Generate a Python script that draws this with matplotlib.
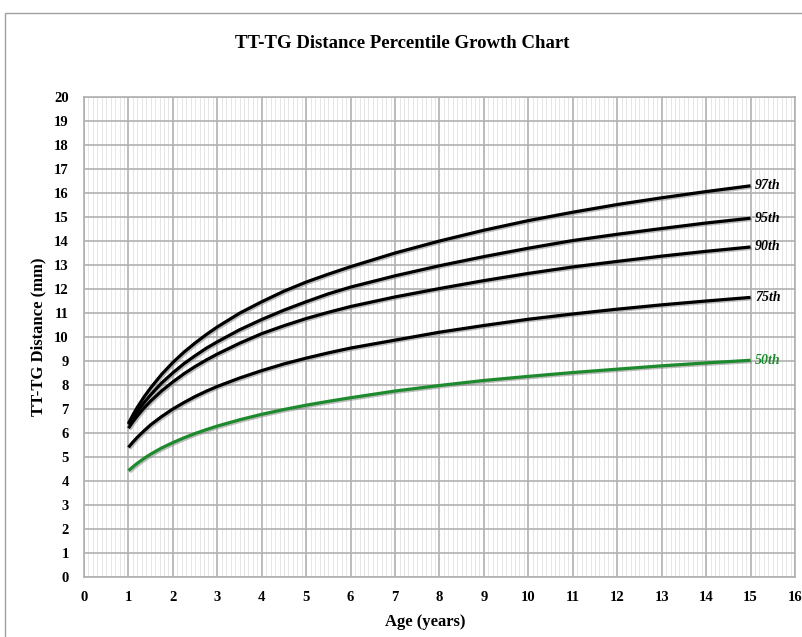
import matplotlib
matplotlib.use("Agg")
import matplotlib.pyplot as plt
import matplotlib.patheffects as pe
from matplotlib.patches import Rectangle
from matplotlib.ticker import MultipleLocator

plt.rcParams['font.family'] = ['Liberation Serif', 'DejaVu Serif']

ages = [1, 1.1, 1.2, 1.35, 1.5, 1.75, 2, 2.25, 2.5, 2.75, 3, 3.5, 4, 4.5, 5, 5.5, 6,
        7, 8, 9, 10, 11, 12, 13, 14, 15]
p97 = [6.4, 6.75, 7.07, 7.5, 7.88, 8.45, 8.94, 9.37, 9.75, 10.1, 10.42, 10.99, 11.47, 11.91, 12.29, 12.62, 12.93,
       13.5, 14.0, 14.45, 14.85, 15.2, 15.52, 15.8, 16.06, 16.3]
p95 = [6.35, 6.62, 6.89, 7.26, 7.59, 8.09, 8.51, 8.89, 9.22, 9.53, 9.8, 10.3, 10.73, 11.12, 11.47, 11.8, 12.08,
       12.55, 12.97, 13.35, 13.7, 14.02, 14.28, 14.52, 14.75, 14.95]
p90 = [6.2, 6.47, 6.71, 7.04, 7.33, 7.76, 8.13, 8.47, 8.77, 9.04, 9.29, 9.74, 10.14, 10.47, 10.77, 11.03, 11.27,
       11.67, 12.02, 12.35, 12.65, 12.92, 13.15, 13.37, 13.57, 13.75]
p75 = [5.4, 5.62, 5.82, 6.09, 6.34, 6.69, 7.0, 7.27, 7.52, 7.74, 7.94, 8.29, 8.6, 8.88, 9.12, 9.34, 9.54,
       9.87, 10.2, 10.48, 10.74, 10.96, 11.16, 11.34, 11.5, 11.65]
p50 = [4.43, 4.59, 4.74, 4.94, 5.12, 5.38, 5.6, 5.8, 5.98, 6.14, 6.29, 6.55, 6.78, 6.98, 7.16, 7.32, 7.47,
       7.75, 7.98, 8.19, 8.36, 8.52, 8.66, 8.8, 8.92, 9.03]

series = [("97th", p97, "black"), ("95th", p95, "black"), ("90th", p90, "black"),
          ("75th", p75, "black"), ("50th", p50, "#1e8a2e")]

title = "TT-TG Distance Percentile Growth Chart"
xlabel = "Age (years)"
ylabel = "TT-TG Distance (mm)"

fig = plt.figure(figsize=(8.03, 6.37), dpi=100)
fig.patch.set_facecolor("white")

# outer frame
fig.add_artist(Rectangle((5/803, -0.05), 1.2, 1 - 13/637 + 0.05, transform=fig.transFigure,
                         fill=False, edgecolor="#a0a0a0", lw=1.0))

ax = fig.add_axes([84/803, 1 - 577/637, 711/803, 480/637])
ax.set_xlim(0, 16)
ax.set_ylim(0, 20)
ax.xaxis.set_major_locator(MultipleLocator(1))
ax.yaxis.set_major_locator(MultipleLocator(1))
ax.xaxis.set_minor_locator(MultipleLocator(0.1))
ax.grid(which="minor", axis="x", color="#dcdcdc", lw=0.5)
ax.grid(which="major", axis="both", color="#b0b0b0", lw=1.2)
ax.set_axisbelow(True)
for s in ax.spines.values():
    s.set_color("#b0b0b0")
    s.set_linewidth(1.2)
ax.tick_params(which="both", length=0)
ax.tick_params(axis="x", pad=10)
ax.tick_params(axis="y", pad=11)
for lab in ax.get_xticklabels() + ax.get_yticklabels():
    lab.set_fontweight("bold")
    lab.set_fontsize(10.5)

shadow = [pe.SimpleLineShadow(offset=(1.0, -1.0), shadow_color="#808080", alpha=0.5), pe.Normal()]
for name, vals, col in series:
    ax.plot(ages, vals, color=col, lw=2.3, solid_capstyle="butt", solid_joinstyle="round",
            path_effects=shadow, zorder=3)
    ax.text(ages[-1] + 0.1, vals[-1], name, color=col, fontsize=10, fontweight="bold",
            fontstyle="italic", ha="left", va="center", zorder=4)

fig.text(402/803, 1 - 43/637, title, ha="center", va="center", fontsize=13.5, fontweight="bold")
fig.text(425/803, 1 - 622/637, xlabel, ha="center", va="center", fontsize=12, fontweight="bold")
fig.text(38/803, 1 - 337/637, ylabel, ha="center", va="center", fontsize=12, fontweight="bold", rotation=90)

fig.savefig("out.png", dpi=100, facecolor="white")
